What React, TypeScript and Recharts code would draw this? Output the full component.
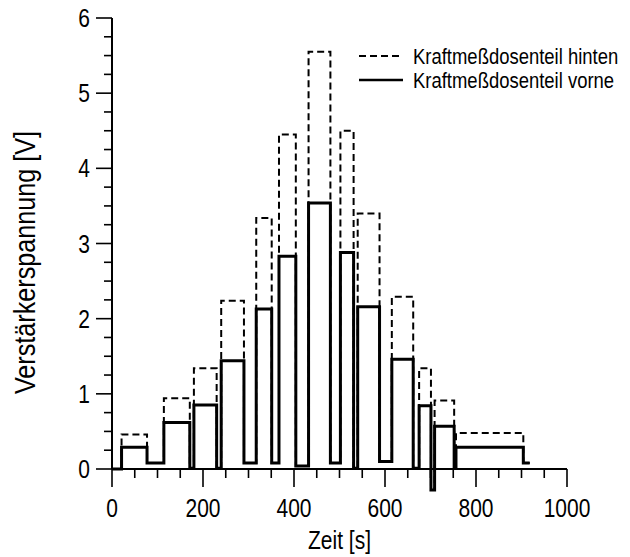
import React from 'react';
import { LineChart, Line, XAxis, YAxis } from 'recharts';

const FONT = "'Liberation Sans', Arial, Helvetica, sans-serif";
const SX = 0.84; // horizontal squeeze of the narrow typeface

// Load steps: start / end time of each pulse (s)
const pulseStart = [21, 114, 180, 240, 317, 367, 432, 502, 540, 615, 675, 709, 756];
const pulseEnd = [77, 171, 230, 290, 351, 404, 480, 531, 588, 662, 701, 752, 904];
// amplifier voltage on each pulse (V)
const vorneLevel = [0.29, 0.62, 0.85, 1.44, 2.13, 2.83, 3.54, 2.88, 2.16, 1.46, 0.84, 0.57, 0.29];
const hintenLevel = [0.46, 0.94, 1.34, 2.24, 3.34, 4.45, 5.55, 4.5, 3.4, 2.29, 1.34, 0.91, 0.48];
// rest level after each pulse (V)
const restLevel = [0.08, 0.01, 0.01, 0.08, 0.08, 0.04, 0.08, 0.01, 0.1, 0.01, -0.28, 0.02, 0.08];
const endTime = 918;

const xTicks = [0, 50, 100, 150, 200, 250, 300, 350, 400, 450, 500, 550, 600, 650, 700, 750, 800, 850, 900, 950, 1000];
const xLabels = [0, 200, 400, 600, 800, 1000];
const yTicks = [0, 0.25, 0.5, 0.75, 1, 1.25, 1.5, 1.75, 2, 2.25, 2.5, 2.75, 3, 3.25, 3.5, 3.75, 4, 4.25, 4.5, 4.75, 5, 5.25, 5.5, 5.75, 6];
const yLabels = [0, 1, 2, 3, 4, 5, 6];

const seriesNames = ['Kraftmeßdosenteil hinten', 'Kraftmeßdosenteil vorne'];
const xTitle = 'Zeit [s]';
const yTitle = 'Verstärkerspannung [V]';

type Pt = { t: number; vorne: number; hinten: number };
const data: Pt[] = [];
data.push({ t: 0, vorne: 0, hinten: 0 });
pulseStart.forEach((s, i) => {
  const prev = i === 0 ? 0 : restLevel[i - 1];
  data.push({ t: s, vorne: prev, hinten: prev });
  data.push({ t: s, vorne: vorneLevel[i], hinten: hintenLevel[i] });
  data.push({ t: pulseEnd[i], vorne: vorneLevel[i], hinten: hintenLevel[i] });
  data.push({ t: pulseEnd[i], vorne: restLevel[i], hinten: restLevel[i] });
});
data.push({ t: endTime, vorne: restLevel[restLevel.length - 1], hinten: restLevel[restLevel.length - 1] });

const NText = ({ x, y, size, anchor = 'start', rotate = 0, baseline, children }: any) => (
  <text
    transform={`translate(${x} ${y}) rotate(${rotate}) scale(${SX} 1)`}
    x={0}
    y={0}
    fontSize={size}
    fontFamily={FONT}
    textAnchor={anchor}
    dominantBaseline={baseline}
    fill="#000"
  >
    {children}
  </text>
);

const XTick = (props: any) => {
  const { x, y, payload } = props;
  const v = payload.value;
  const major = xLabels.includes(v);
  return (
    <g>
      <line x1={x} x2={x} y1={y} y2={y + (major ? 18 : 9)} stroke="#000" strokeWidth={1.6} />
      {major && (
        <NText x={x} y={y + 48} size={25} anchor="middle">
          {v}
        </NText>
      )}
    </g>
  );
};

const YTick = (props: any) => {
  const { x, y, payload } = props;
  const v = payload.value;
  const major = yLabels.includes(v);
  return (
    <g>
      <line x1={x} x2={x - (major ? 16 : 8)} y1={y} y2={y} stroke="#000" strokeWidth={1.6} />
      {major && (
        <NText x={x - 22} y={y + 9} size={25} anchor="end">
          {v}
        </NText>
      )}
    </g>
  );
};

const XTitle = (props: any) => {
  const vb = props.viewBox;
  return (
    <NText x={vb.x + vb.width / 2} y={vb.y + 80} size={25} anchor="middle">
      {xTitle}
    </NText>
  );
};

const YTitle = (props: any) => {
  const vb = props.viewBox;
  return (
    <NText x={25} y={vb.y + vb.height / 2 + 19} size={30} anchor="middle" rotate={-90} baseline="central">
      {yTitle}
    </NText>
  );
};

const LegendOverlay = () => (
  <svg
    width={630}
    height={557}
    style={{ position: 'absolute', left: 0, top: 0, pointerEvents: 'none', overflow: 'visible' }}
  >
    <line x1={359} x2={403} y1={56} y2={56} stroke="#000" strokeWidth={2} strokeDasharray="7 4" />
    <NText x={413} y={56} size={22} baseline="central">
      {seriesNames[0]}
    </NText>
    <line x1={359} x2={403} y1={80} y2={80} stroke="#000" strokeWidth={2.5} />
    <NText x={413} y={80} size={22} baseline="central">
      {seriesNames[1]}
    </NText>
  </svg>
);

export default function App() {
  return (
    <div style={{ position: 'absolute', left: 0, top: 0, width: 630, height: 557, background: '#fff' }}>
      <style>{`.recharts-line, .recharts-line * { clip-path: none !important; }`}</style>
      <LineChart width={630} height={557} data={data} margin={{ top: 18, right: 63, left: 0, bottom: 0 }}>
        <XAxis
          dataKey="t"
          type="number"
          domain={[0, 1000]}
          ticks={xTicks}
          interval={0}
          tickSize={0}
          tickMargin={0}
          tickLine={false}
          tick={<XTick />}
          height={88}
          axisLine={{ stroke: '#000', strokeWidth: 2 }}
          label={<XTitle />}
        />
        <YAxis
          type="number"
          domain={[0, 6]}
          allowDataOverflow
          ticks={yTicks}
          interval={0}
          tickSize={0}
          tickMargin={0}
          tickLine={false}
          tick={<YTick />}
          width={112}
          axisLine={{ stroke: '#000', strokeWidth: 2 }}
          label={<YTitle />}
        />
        <Line
          type="linear"
          dataKey="hinten"
          name={seriesNames[0]}
          stroke="#000"
          strokeWidth={2}
          strokeDasharray="7 4"
          dot={false}
          activeDot={false}
          isAnimationActive={false}
        />
        <Line
          type="linear"
          dataKey="vorne"
          name={seriesNames[1]}
          stroke="#000"
          strokeWidth={3}
          dot={false}
          activeDot={false}
          isAnimationActive={false}
        />
      </LineChart>
      <LegendOverlay />
    </div>
  );
}
